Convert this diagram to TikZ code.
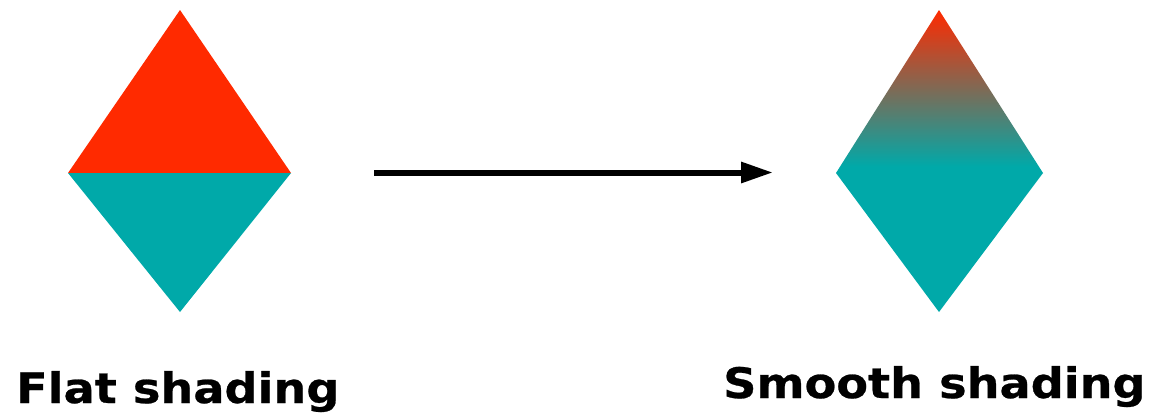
\documentclass[tikz,border=0pt]{standalone}
\usepackage{fontspec}
\setmainfont{DejaVu Sans}
\newfontfamily\lblfont[FakeStretch=1.1,FakeBold=0.6]{DejaVu Sans Bold}
\usetikzlibrary{arrows.meta}
\definecolor{flatred}{HTML}{FF2A00}
\definecolor{teal}{HTML}{00A9A9}
\pgfdeclareverticalshading{smoothgrad}{100bp}{color(0bp)=(teal); color(27bp)=(teal); color(75bp)=(flatred); color(100bp)=(flatred)}
\begin{document}
\begin{tikzpicture}[x=1pt,y=-1pt,
  lbl/.style={inner sep=0pt,font=\lblfont\fontsize{42}{50}\selectfont},
  conn/.style={line width=6pt,-{Triangle[length=32pt,width=20pt]}}]
\useasboundingbox (0,0) rectangle (1157,416);
% left diamond
\coordinate (LT) at (180,10);
\coordinate (LL) at (68,173);
\coordinate (LR) at (291,173);
\coordinate (LB) at (180,312);
\fill[flatred] (LT) -- (LR) -- (LL) -- cycle;
\fill[teal] (LL) -- (LR) -- (LB) -- cycle;
% right diamond
\coordinate (RT) at (939,10);
\coordinate (RL) at (836,173);
\coordinate (RR) at (1043,173);
\coordinate (RB) at (939,312);
\shade[shading=smoothgrad] (RT) -- (RR) -- (RL) -- cycle;
\fill[teal] (RL) -- (RR) -- (RB) -- cycle;
% arrow
\coordinate (A1) at (374,172.5);
\coordinate (A2) at (773,172.5);
\draw[conn] (A1) -- (A2);
% labels
\node[lbl,anchor=base west] (flat) at (16,403) {Flat shading};
\node[lbl,anchor=base west] (smooth) at (723,398) {Smooth shading};
\end{tikzpicture}
\end{document}
